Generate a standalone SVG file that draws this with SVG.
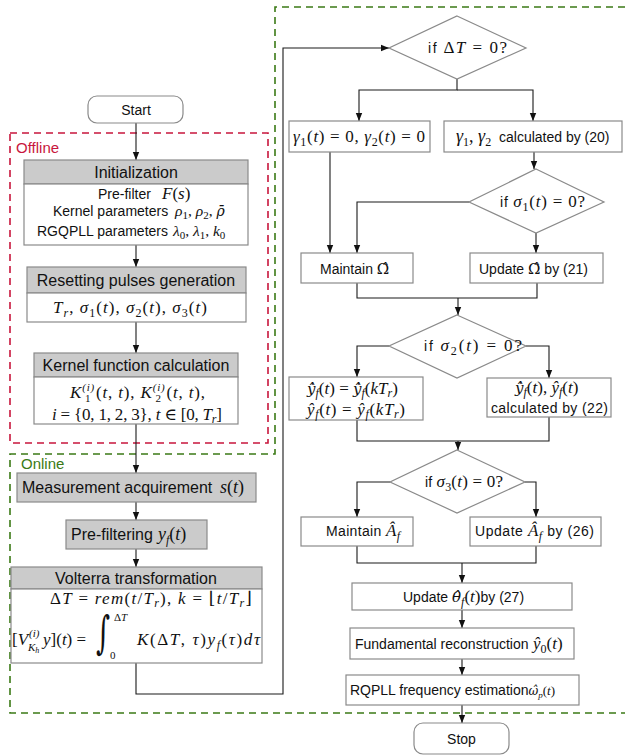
<svg xmlns="http://www.w3.org/2000/svg" width="625" height="756" viewBox="0 0 625 756">
<style>
.s{font-family:"Liberation Sans",Arial,sans-serif;font-size:14px;fill:#111}
.h{font-family:"Liberation Sans",Arial,sans-serif;font-size:16px;fill:#111}
.m{font-family:"Liberation Serif","DejaVu Serif",serif;font-style:italic;font-size:17px;fill:#111}
.ms{font-size:15.5px}
.n{font-family:"Liberation Serif","DejaVu Serif",serif;font-style:normal}
.i{font-family:"Liberation Serif","DejaVu Serif",serif;font-style:italic}
.dj{font-family:"DejaVu Serif",serif;font-size:15px}
.sb{font-size:12px}
.sc{font-size:11px}
.box{fill:#fff;stroke:#8a8a8a;stroke-width:1.2}
.hd{fill:#cbcbcb;stroke:#8a8a8a;stroke-width:1.2}
.cn{fill:none;stroke:#1a1a1a;stroke-width:1.1}
.red{fill:none;stroke:#c8163c;stroke-width:1.6;stroke-dasharray:7 5}
.grn{fill:none;stroke:#3b7a16;stroke-width:1.6;stroke-dasharray:7 5}
</style>
<defs>
<marker id="ah" viewBox="0 0 10 10" refX="10" refY="5" markerWidth="8" markerHeight="9" markerUnits="userSpaceOnUse" orient="auto"><path d="M0,1 L10,5 L0,9 z" fill="#111"/></marker>
</defs>

<g id="regions">
<rect class="red" x="10" y="133" width="258" height="310"/>
<text x="16" y="153" style="font-family:'Liberation Sans',Arial,sans-serif;font-size:15px;fill:#c8163c">Offline</text>
<path class="grn" d="M625,7 H275 V454 H10 V713 H625"/>
<text x="21" y="469" style="font-family:'Liberation Sans',Arial,sans-serif;font-size:15px;fill:#3b7a16">Online</text>
</g>

<g id="connectors">
<path class="cn" d="M136,123 V160" marker-end="url(#ah)"/>
<path class="cn" d="M136,245 V267" marker-end="url(#ah)"/>
<path class="cn" d="M136,322 V353" marker-end="url(#ah)"/>
<path class="cn" d="M136,424 V473" marker-end="url(#ah)"/>
<path class="cn" d="M136,502 V520" marker-end="url(#ah)"/>
<path class="cn" d="M136,549 V567" marker-end="url(#ah)"/>
<path class="cn" d="M136,663 V694 H283 V48 H389" marker-end="url(#ah)"/>
<path class="cn" d="M457,79 V90 H359 V121" marker-end="url(#ah)"/>
<path class="cn" d="M457,90 H533 V121" marker-end="url(#ah)"/>
<path class="cn" d="M534,152 V169" marker-end="url(#ah)"/>
<path class="cn" d="M469,202 H357 V253" marker-end="url(#ah)"/>
<path class="cn" d="M330,152 V253" marker-end="url(#ah)"/>
<path class="cn" d="M536,233 V253" marker-end="url(#ah)"/>
<path class="cn" d="M357,283 V298 H537 V283"/>
<path class="cn" d="M458,298 V315" marker-end="url(#ah)"/>
<path class="cn" d="M389,346 H357 V377" marker-end="url(#ah)"/>
<path class="cn" d="M526,346 H549 V378" marker-end="url(#ah)"/>
<path class="cn" d="M357,420 V441 H549 V417"/>
<path class="cn" d="M458,441 V450" marker-end="url(#ah)"/>
<path class="cn" d="M390,482 H357 V517" marker-end="url(#ah)"/>
<path class="cn" d="M525,482 H536 V517" marker-end="url(#ah)"/>
<path class="cn" d="M357,546 V563 H536 V546"/>
<path class="cn" d="M462,563 V583" marker-end="url(#ah)"/>
<path class="cn" d="M462,610 V628" marker-end="url(#ah)"/>
<path class="cn" d="M462,659 V675" marker-end="url(#ah)"/>
<path class="cn" d="M462,705 V723" marker-end="url(#ah)"/>
</g>

<g id="start">
<rect class="box" x="88" y="96" width="95" height="27" rx="9"/>
<text class="s" x="136" y="114.5" text-anchor="middle">Start</text>
</g>

<g id="initialization">
<rect class="hd" x="24" y="160" width="224" height="24"/>
<rect class="box" x="24" y="184" width="224" height="61"/>
<text class="h" x="136" y="178" text-anchor="middle">Initialization</text>
<text class="s" x="98" y="198.5">Pre-filter</text>
<text class="m" x="162" y="198.5">F<tspan class="n">(</tspan>s<tspan class="n">)</tspan></text>
<text class="s" x="53" y="216">Kernel parameters</text>
<text class="m ms" x="175" y="216">ρ<tspan class="n sc" dy="3">1</tspan><tspan class="n" dy="-3">, </tspan>ρ<tspan class="n sc" dy="3">2</tspan><tspan class="n" dy="-3">, </tspan><tspan class="dj" style="font-size:14px">ρ̄</tspan></text>
<text class="s" x="37" y="235.5">RGQPLL parameters</text>
<text class="m ms" x="173" y="235.5">λ<tspan class="n sc" dy="3">0</tspan><tspan class="n" dy="-3">, </tspan>λ<tspan class="n sc" dy="3">1</tspan><tspan class="n" dy="-3">, </tspan>k<tspan class="n sc" dy="3">0</tspan></text>
</g>

<g id="resetting">
<rect class="hd" x="27" y="267" width="219" height="26"/>
<rect class="box" x="27" y="293" width="219" height="29"/>
<text class="h" x="136" y="286" text-anchor="middle">Resetting pulses generation</text>
<text class="m" x="53" y="313" textLength="154" lengthAdjust="spacing">T<tspan class="sb" dy="4">r</tspan><tspan class="n" dy="-4">, </tspan>σ<tspan class="n sb" dy="4">1</tspan><tspan class="n" dy="-4">(</tspan>t<tspan class="n">), </tspan>σ<tspan class="n sb" dy="4">2</tspan><tspan class="n" dy="-4">(</tspan>t<tspan class="n">), </tspan>σ<tspan class="n sb" dy="4">3</tspan><tspan class="n" dy="-4">(</tspan>t<tspan class="n">)</tspan></text>
</g>

<g id="kernel">
<rect class="hd" x="34" y="353" width="204" height="24"/>
<rect class="box" x="34" y="377" width="204" height="47"/>
<text class="h" x="136" y="371" text-anchor="middle">Kernel function calculation</text>
<text class="m" x="70" y="398" textLength="135" lengthAdjust="spacing">K<tspan style="font-size:11px" dy="-7">(i)</tspan><tspan class="n" style="font-size:11px" dx="-10" dy="11">1</tspan><tspan class="n" dx="4.5" dy="-4">(</tspan>t<tspan class="n">, </tspan>t<tspan class="n">), </tspan>K<tspan style="font-size:11px" dy="-7">(i)</tspan><tspan class="n" style="font-size:11px" dx="-10" dy="11">2</tspan><tspan class="n" dx="4.5" dy="-4">(</tspan>t<tspan class="n">, </tspan>t<tspan class="n">),</tspan></text>
<text class="m" x="52" y="420" textLength="170" lengthAdjust="spacing">i<tspan class="n"> = {0, 1, 2, 3}, </tspan>t<tspan class="n"> ∈ [0, </tspan>T<tspan class="sb" dy="3">r</tspan><tspan class="n" dy="-3">]</tspan></text>
</g>

<g id="measurement">
<rect class="hd" x="17" y="473" width="239" height="29"/>
<text class="h" x="22" y="493">Measurement acquirement</text>
<text class="m" x="220" y="493" style="font-size:18px">s<tspan class="n">(</tspan>t<tspan class="n">)</tspan></text>
</g>

<g id="prefiltering">
<rect class="hd" x="66" y="520" width="141" height="29"/>
<text class="h" x="71" y="540">Pre-filtering</text>
<text class="m" x="158" y="540" style="font-size:18px">y<tspan class="sb" dy="4">f</tspan><tspan class="n" dy="-4">(</tspan>t<tspan class="n">)</tspan></text>
</g>

<g id="volterra">
<rect class="hd" x="11" y="567" width="251" height="22"/>
<rect class="box" x="11" y="589" width="251" height="74"/>
<text class="h" x="136" y="584" text-anchor="middle">Volterra transformation</text>
<text class="m" x="50" y="603.5" textLength="202" lengthAdjust="spacing"><tspan class="n">Δ</tspan>T<tspan class="n"> = </tspan>rem<tspan class="n">(</tspan>t<tspan class="n">/</tspan>T<tspan class="sb" dy="3">r</tspan><tspan class="n" dy="-3">), </tspan>k<tspan class="n"> = ⌊</tspan>t<tspan class="n">/</tspan>T<tspan class="sb" dy="3">r</tspan><tspan class="n" dy="-3">⌋</tspan></text>
<text class="m" x="12" y="645"><tspan class="n">[</tspan>V</text>
<text class="i" x="29" y="637" style="font-size:11px;fill:#111">(i)</text>
<text class="i" x="28" y="651" style="font-size:11px;fill:#111">K<tspan style="font-size:8px" dy="2">h</tspan></text>
<text class="m" x="43" y="645">y<tspan class="n">](</tspan>t<tspan class="n">) =</tspan></text>
<text transform="translate(96,648) scale(0.9,1.5)" style="font-family:'DejaVu Serif',serif;font-size:30px;fill:#111">∫</text>
<text class="n" x="110" y="659" style="font-size:11px;fill:#111">0</text>
<text class="n" x="114" y="621" style="font-size:11px;fill:#111">Δ<tspan class="i">T</tspan></text>
<text class="m" x="137" y="645" textLength="123" lengthAdjust="spacing">K<tspan class="n">(Δ</tspan>T<tspan class="n">, </tspan>τ<tspan class="n">)</tspan>y<tspan class="sb" dy="4">f</tspan><tspan class="n" dy="-4">(</tspan>τ<tspan class="n">)</tspan>dτ</text>
</g>

<g id="dec-deltaT">
<polygon class="box" points="457,16 526,48 457,79 389,48"/>
<text class="s" x="428" y="53" textLength="79" lengthAdjust="spacing">if <tspan class="m"><tspan class="n">Δ</tspan>T<tspan class="n"> = 0?</tspan></tspan></text>
</g>

<g id="gamma-zero">
<rect class="box" x="289" y="121" width="141" height="31"/>
<text class="m" x="293" y="142" textLength="132" lengthAdjust="spacing">γ<tspan class="n sb" dy="4">1</tspan><tspan class="n" dy="-4">(</tspan>t<tspan class="n">) = 0, </tspan>γ<tspan class="n sb" dy="4">2</tspan><tspan class="n" dy="-4">(</tspan>t<tspan class="n">) = 0</tspan></text>
</g>

<g id="gamma-calc">
<rect class="box" x="444" y="121" width="178" height="31"/>
<text class="m" x="456" y="142" style="font-size:18px">γ<tspan class="n sb" dy="4">1</tspan><tspan class="n" dy="-4">, </tspan>γ<tspan class="n sb" dy="4">2</tspan></text>
<text class="s" x="499" y="142">calculated by (20)</text>
</g>

<g id="dec-sigma1">
<polygon class="box" points="536,169 604,202 536,233 469,202"/>
<text class="s" x="500" y="207" textLength="85" lengthAdjust="spacing">if <tspan class="m">σ<tspan class="n sb" dy="4">1</tspan><tspan class="n" dy="-4">(</tspan>t<tspan class="n">) = 0?</tspan></tspan></text>
</g>

<g id="maintain-omega">
<rect class="box" x="301" y="253" width="112" height="30"/>
<text class="s" x="320" y="274">Maintain <tspan class="dj">Ω̂</tspan></text>
</g>

<g id="update-omega">
<rect class="box" x="470" y="253" width="133" height="30"/>
<text class="s" x="479" y="274">Update <tspan class="dj">Ω̂</tspan> by (21)</text>
</g>

<g id="dec-sigma2">
<polygon class="box" points="457,315 526,346 457,378 389,346"/>
<text class="s" x="424" y="351" textLength="98" lengthAdjust="spacing">if  <tspan class="m">σ<tspan class="n sb" dy="4">2</tspan><tspan class="n" dy="-4">(</tspan>t<tspan class="n">) = 0?</tspan></tspan></text>
</g>

<g id="yhat-hold">
<rect class="box" x="289" y="377" width="134" height="43"/>
<text class="m" x="307" y="394"><tspan class="dj" style="font-style:italic">ẏ̂</tspan><tspan class="sb" dy="3">f</tspan><tspan class="n" dy="-3">(</tspan>t<tspan class="n">) = </tspan><tspan class="dj" style="font-style:italic">ẏ̂</tspan><tspan class="sb" dy="3">f</tspan><tspan class="n" dy="-3">(</tspan>kT<tspan class="sb" dy="3">r</tspan><tspan class="n" dy="-3">)</tspan></text>
<text class="m" x="307" y="415" textLength="98" lengthAdjust="spacing">ŷ<tspan class="sb" dy="3">f</tspan><tspan class="n" dy="-3">(</tspan>t<tspan class="n">) = </tspan>ŷ<tspan class="sb" dy="3">f</tspan><tspan class="n" dy="-3">(</tspan>kT<tspan class="sb" dy="3">r</tspan><tspan class="n" dy="-3">)</tspan></text>
</g>

<g id="yhat-calc">
<rect class="box" x="487" y="378" width="124" height="39"/>
<text class="m" x="515" y="393"><tspan class="dj" style="font-style:italic">ẏ̂</tspan><tspan class="sb" dy="3">f</tspan><tspan class="n" dy="-3">(</tspan>t<tspan class="n">), </tspan>ŷ<tspan class="sb" dy="3">f</tspan><tspan class="n" dy="-3">(</tspan>t<tspan class="n">)</tspan></text>
<text class="s" x="491" y="412.5" textLength="117" lengthAdjust="spacing">calculated by (22)</text>
</g>

<g id="dec-sigma3">
<polygon class="box" points="457,450 525,482 457,513 390,482"/>
<text class="s" x="425" y="487" textLength="78" lengthAdjust="spacing">if <tspan class="m">σ<tspan class="n sb" dy="4">3</tspan><tspan class="n" dy="-4">(</tspan>t<tspan class="n">) = 0?</tspan></tspan></text>
</g>

<g id="maintain-a">
<rect class="box" x="301" y="517" width="112" height="29"/>
<text class="s" x="326" y="536" textLength="74" lengthAdjust="spacing">Maintain <tspan class="m">Â<tspan class="sb" dy="4">f</tspan></tspan></text>
</g>

<g id="update-a">
<rect class="box" x="470" y="517" width="131" height="29"/>
<text class="s" x="475" y="536" textLength="119" lengthAdjust="spacing">Update  <tspan class="m">Â<tspan class="sb" dy="4">f</tspan></tspan><tspan dy="-4"> by (26)</tspan></text>
</g>

<g id="update-theta">
<rect class="box" x="352" y="583" width="220" height="27"/>
<text class="s" x="403" y="602">Update <tspan class="m"><tspan class="dj" style="font-style:italic">θ̂</tspan><tspan class="sb" dy="4">f</tspan><tspan class="n" dy="-4">(</tspan>t<tspan class="n">)</tspan></tspan>by (27)</text>
</g>

<g id="fundamental">
<rect class="box" x="350" y="628" width="224" height="31"/>
<text class="s" x="355" y="649">Fundamental reconstruction</text>
<text class="m" x="533" y="649">ŷ<tspan class="n sb" dy="4">0</tspan><tspan class="n" dy="-4">(</tspan>t<tspan class="n">)</tspan></text>
</g>

<g id="rqpll">
<rect class="box" x="346" y="675" width="233" height="30"/>
<text class="s" x="350" y="695">RQPLL frequency estimation<tspan class="m" style="font-size:13px"><tspan class="dj" style="font-size:12px;font-style:italic">ω̂</tspan><tspan style="font-size:9px" dy="3">p</tspan><tspan class="n" dy="-3">(</tspan>t<tspan class="n">)</tspan></tspan></text>
</g>

<g id="stop">
<rect class="box" x="414" y="723" width="95" height="31" rx="9"/>
<text class="s" x="461.5" y="743.5" text-anchor="middle">Stop</text>
</g>
</svg>
